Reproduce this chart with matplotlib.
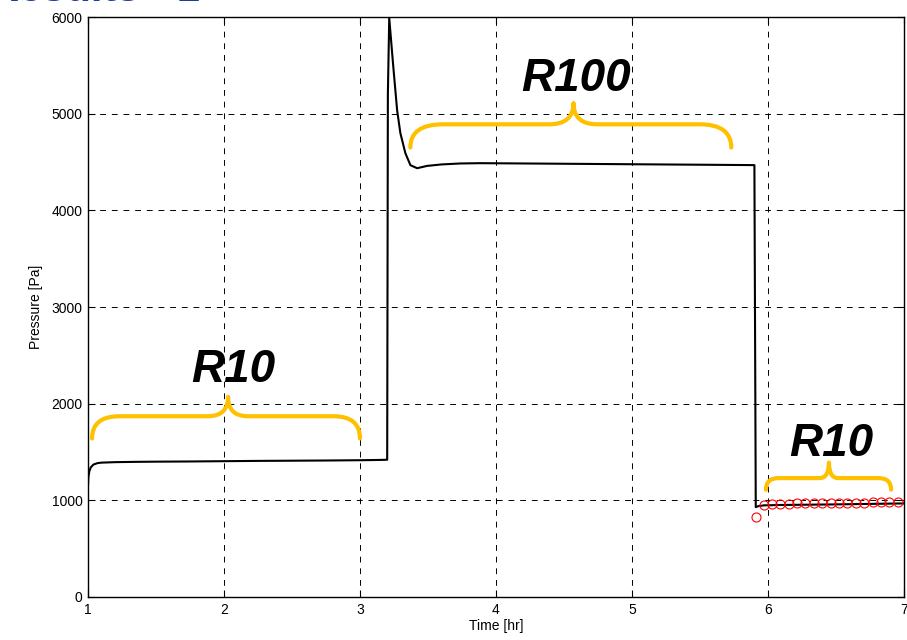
import matplotlib
matplotlib.use("Agg")
import matplotlib.pyplot as plt
from matplotlib.path import Path
from matplotlib.patches import PathPatch

plt.rcParams['font.family'] = ['Liberation Sans', 'DejaVu Sans']

# pressure trace (time in hr, pressure in Pa)
time_hr = [1.0, 1.003, 1.01, 1.02, 1.04, 1.07, 1.1, 1.2, 1.35, 1.5, 1.75, 2.0,
           2.25, 2.5, 2.75, 3.0, 3.15, 3.2,
           3.205, 3.215, 3.245, 3.273, 3.297, 3.334, 3.371, 3.42, 3.494, 3.6,
           3.739, 3.886, 4.1, 4.3, 4.5, 4.7, 4.9, 5.1, 5.3, 5.5, 5.7, 5.9,
           5.91, 5.93, 5.97, 6.1, 6.3, 6.5, 6.7, 6.9, 7.0]
pressure_pa = [1150, 1240, 1300, 1340, 1370, 1385, 1390, 1395, 1398, 1400, 1402, 1405,
               1408, 1410, 1412, 1415, 1418, 1420,
               5200, 5990, 5483, 5036, 4798, 4590, 4467, 4436, 4460, 4475,
               4485, 4488, 4486, 4484, 4482, 4480, 4478, 4476, 4474, 4472, 4470, 4468,
               930, 940, 948, 952, 955, 958, 962, 966, 968]

# red circle samples at the end
circ_t = [5.91, 5.967, 6.029, 6.09, 6.152, 6.214, 6.275, 6.337, 6.399, 6.46,
          6.522, 6.584, 6.645, 6.707, 6.769, 6.83, 6.892, 6.954]
circ_p = [830, 955, 962, 965, 965, 968, 968, 970, 970, 972, 972, 975, 975,
          975, 978, 978, 980, 982]

# braces: (left t, right t, tip t, end level, flat level, tip level)
braces = [(1.03, 3.0, 2.03, 1640, 1870, 2070),
          (3.37, 5.73, 4.57, 4650, 4890, 5110),
          (5.985, 6.905, 6.448, 1110, 1230, 1390)]
labels = ["R10", "R100", "R10"]
label_pos = [(2.071, 2348), (4.589, 5362), (6.463, 1587)]

fig = plt.figure(figsize=(9.07, 6.4), dpi=100)
ax = fig.add_axes([0.097, 0.0672, 0.8997, 0.9062])

ax.plot(time_hr, pressure_pa, color='black', lw=1.5)
ax.plot(circ_t, circ_p, 'o', mfc='none', mec='red', mew=0.8, ms=6.5)


def brace(ax, x0, x1, xm, yend, yflat, ytip, color='#FFC000'):
    wl = xm - x0
    wr = x1 - xm
    verts = [(x0, yend), (x0, yflat), (x0 + 0.2 * wl, yflat),
             (xm - 0.15 * wl, yflat),
             (xm, yflat), (xm, ytip),
             (xm, yflat), (xm + 0.15 * wr, yflat),
             (x1 - 0.2 * wr, yflat),
             (x1, yflat), (x1, yend)]
    codes = [Path.MOVETO, Path.CURVE3, Path.CURVE3,
             Path.LINETO,
             Path.CURVE3, Path.CURVE3,
             Path.CURVE3, Path.CURVE3,
             Path.LINETO,
             Path.CURVE3, Path.CURVE3]
    ax.add_patch(PathPatch(Path(verts, codes), fc='none', ec=color, lw=3,
                           capstyle='round', joinstyle='round', zorder=4))


for (x0, x1, xm, ye, yf, yt) in braces:
    brace(ax, x0, x1, xm, ye, yf, yt)

for lab, (lx, ly) in zip(labels, label_pos):
    ax.text(lx, ly, lab, fontsize=33, fontweight='bold', fontstyle='italic',
            ha='center', va='center', zorder=5)

ax.set_xlim(1, 7)
ax.set_ylim(0, 6000)
ax.set_xticks(range(1, 8))
ax.set_yticks(range(0, 7000, 1000))
ax.grid(True, color='black', linestyle=(0, (6, 6)), lw=0.7)
ax.tick_params(direction='in', top=True, right=True, labelsize=10, length=5, pad=4)
for s in ax.spines.values():
    s.set_linewidth(1.0)
ax.set_xlabel('Time [hr]', fontsize=10, labelpad=2)
ax.set_ylabel('Pressure [Pa]', fontsize=10, labelpad=6)

# cut-off slide title at the very top (only the glyph bottoms show)
fig.text(-0.012, 0.998, 'Results - 1', color='#1F3C99', fontsize=30,
         fontweight='bold', va='baseline', ha='left')

fig.savefig('out.png', dpi=100)
